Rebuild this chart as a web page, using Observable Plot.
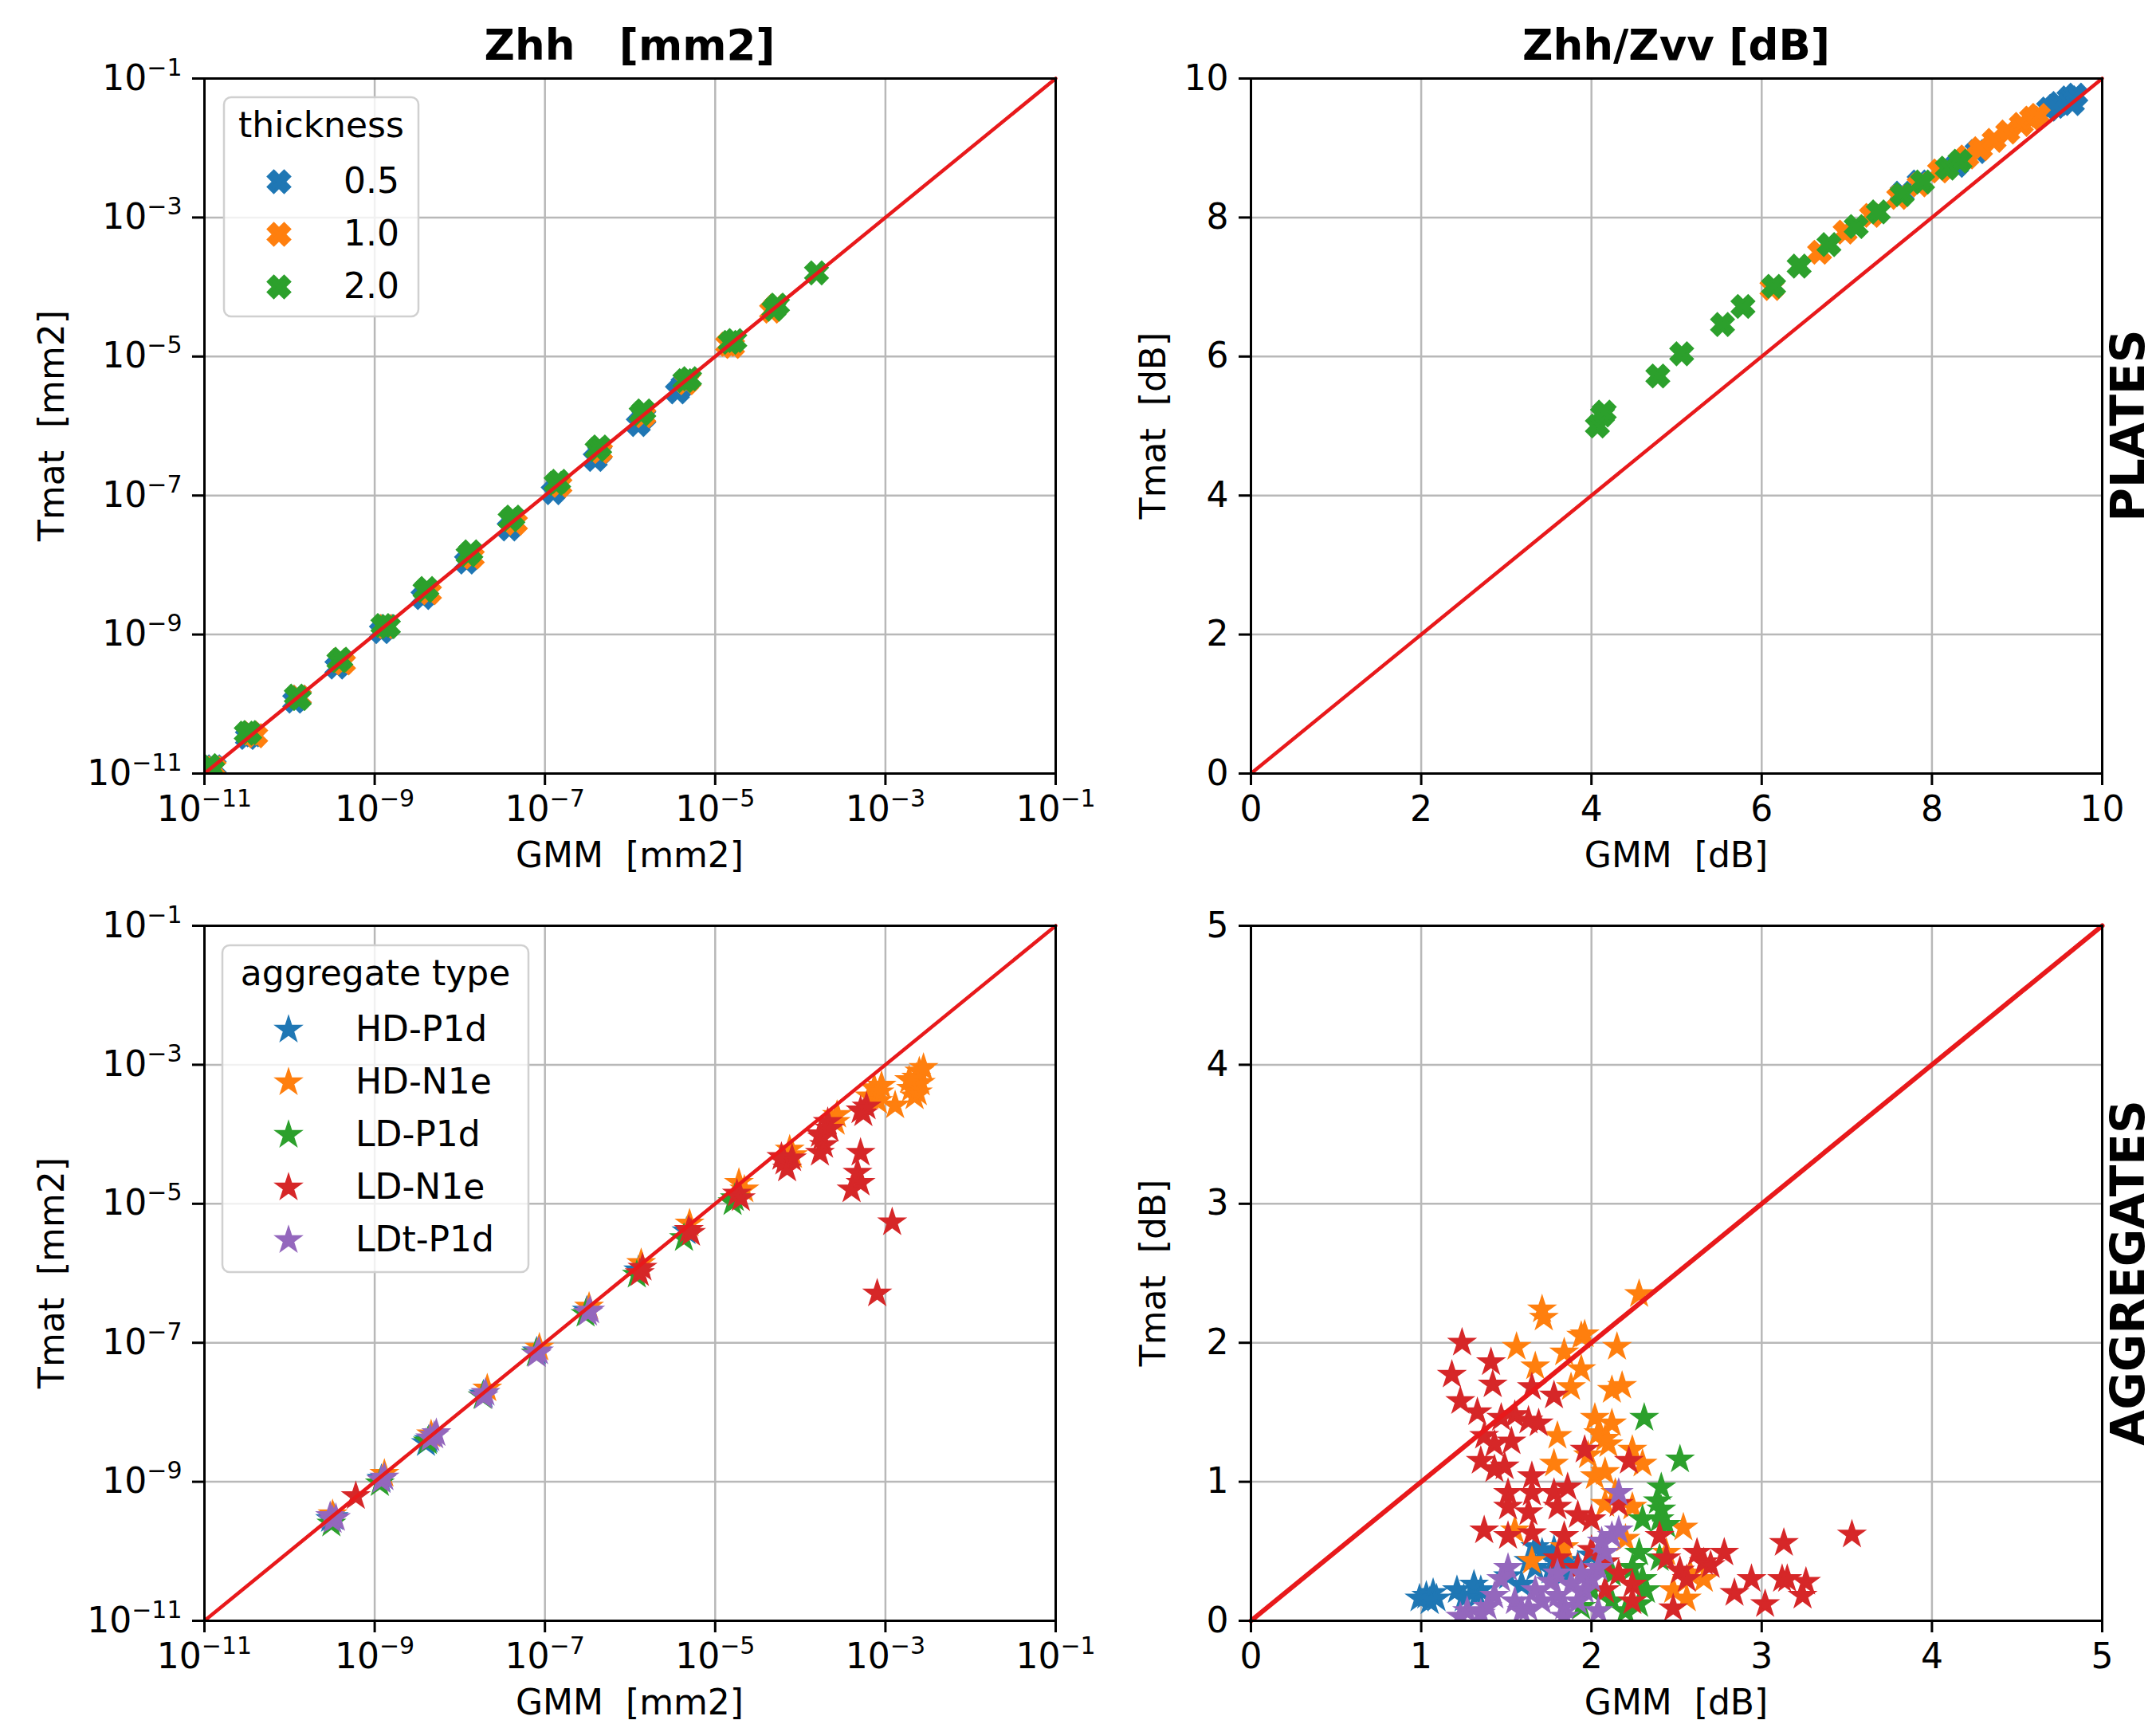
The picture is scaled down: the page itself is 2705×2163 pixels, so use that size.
<!DOCTYPE html>
<html><head><meta charset="utf-8">
<script src="https://cdn.jsdelivr.net/npm/d3@7"></script>
<script src="https://cdn.jsdelivr.net/npm/@observablehq/plot@0.6"></script>
<style>
html,body{margin:0;padding:0;background:#fff;}
#root{position:relative;width:2705px;height:2163px;overflow:hidden;font-family:"DejaVu Sans",sans-serif;background:#fff;}
#root > svg{position:absolute;}
</style></head><body><div id="root"></div>
<script>
// ---------------- DATA ----------------
const colors = {blue:"#1f77b4", orange:"#ff7f0e", green:"#2ca02c", red:"#d62728", purple:"#9467bd"};
const logTicks = [1e-11, 1e-9, 1e-7, 1e-5, 1e-3, 1e-1];
const logDomain = [1e-11, 1e-1];
const dbTicksPlates = [0, 2, 4, 6, 8, 10];
const dbDomainPlates = [0, 10];
const dbTicksAgg = [0, 1, 2, 3, 4, 5];
const dbDomainAgg = [0, 5];

const thicknessLabels = ["0.5", "1.0", "2.0"];
const aggregateLabels = ["HD-P1d", "HD-N1e", "LD-P1d", "LD-N1e", "LDt-P1d"];

// Plates, Zhh [mm2]: [GMM, Tmat]
const plateZhh05 = [
  [1.15e-11,1.05e-11],[1.3e-11,1.25e-11],[3.2e-11,3.3e-11],[3.7e-11,3.6e-11],
  [1.15e-10,1.1e-10],[1.3e-10,1.25e-10],[3.6e-10,3.4e-10],[4.1e-10,4.0e-10],
  [1.2e-9,1.1e-9],[1.4e-9,1.3e-9],[3.7e-9,3.4e-9],[4.2e-9,4.0e-9],
  [1.2e-8,1.1e-8],[1.35e-8,1.3e-8],[3.8e-8,3.3e-8],[4.3e-8,4.0e-8],
  [1.25e-7,1.1e-7],[1.45e-7,1.35e-7],[3.9e-7,3.3e-7],[4.4e-7,4.1e-7],
  [1.25e-6,1.05e-6],[1.45e-6,1.35e-6],[3.6e-6,3.1e-6],[4.2e-6,3.9e-6]
];
const plateZhh10 = [
  [1.3e-11,1.2e-11],[4.0e-11,3.5e-11],[3.5e-11,3.8e-11],[1.3e-10,1.25e-10],
  [4.3e-10,3.9e-10],[3.9e-10,4.3e-10],[1.35e-9,1.3e-9],[4.4e-9,4.0e-9],
  [1.4e-8,1.3e-8],[4.5e-8,4.0e-8],[1.5e-7,1.4e-7],[4.5e-7,4.3e-7],
  [1.45e-6,1.4e-6],[4.6e-6,4.2e-6],[4.9e-6,4.6e-6],[1.4e-5,1.5e-5],
  [1.6e-5,1.4e-5],[4.6e-5,4.5e-5],[5.2e-5,5.3e-5]
];
const plateZhh20 = [
  [1.15e-11,1.3e-11],[1.25e-11,1.15e-11],[3.1e-11,3.8e-11],[3.4e-11,3.9e-11],
  [1.2e-10,1.3e-10],[1.3e-10,1.2e-10],[3.8e-10,4.2e-10],[4.0e-10,4.4e-10],
  [1.25e-9,1.35e-9],[1.45e-9,1.3e-9],[3.9e-9,4.3e-9],[4.1e-9,4.6e-9],
  [1.25e-8,1.4e-8],[1.35e-8,1.55e-8],[3.9e-8,4.5e-8],[4.2e-8,4.9e-8],
  [1.35e-7,1.5e-7],[1.45e-7,1.6e-7],[4.1e-7,4.6e-7],[4.4e-7,5.0e-7],
  [1.35e-6,1.5e-6],[1.45e-6,1.65e-6],[4.4e-6,4.5e-6],[5.0e-6,4.8e-6],
  [1.5e-5,1.6e-5],[1.7e-5,1.7e-5],[4.9e-5,4.8e-5],[5.4e-5,5.5e-5],[1.55e-4,1.6e-4]
];

// Plates, Zhh/Zvv [dB]: [GMM, Tmat]
const plateZdr05 = [
  [7.65,8.35],[7.85,8.51],[8.29,8.75],[8.53,8.95],[9.37,9.56],[9.49,9.64],
  [9.61,9.72],[9.69,9.76],[9.65,9.64],[9.45,9.6]
];
const plateZdr10 = [
  [6.12,6.98],[6.68,7.5],[6.98,7.79],[7.29,8.03],[7.61,8.29],[7.85,8.47],
  [8.09,8.67],[8.41,8.87],[8.57,8.99],[8.73,9.11],[8.89,9.23],[9.05,9.34],
  [9.17,9.43],[9.25,9.47]
];
const plateZdr20 = [
  [4.07,5.0],[4.13,5.16],[4.15,5.2],[4.78,5.72],[5.06,6.04],[5.54,6.46],
  [5.78,6.72],[6.14,7.01],[6.44,7.3],[6.79,7.61],[7.11,7.87],[7.37,8.08],
  [7.65,8.33],[7.89,8.51],[8.18,8.71],[8.33,8.81]
];

// Aggregates, Zhh [mm2]: [GMM, Tmat]
const aggZhhHDP1d = [
  [3.0e-10,2.9e-10],[3.3e-10,3.1e-10],[1.2e-9,1.1e-9],[4.0e-9,3.6e-9],[4.3e-9,4.0e-9],
  [1.9e-8,1.8e-8],[8.0e-8,7.5e-8],[3.1e-7,2.9e-7],[1.25e-6,1.1e-6],[4.6e-6,4.0e-6]
];
const aggZhhHDN1e = [
  [3.2e-10,3.4e-10],[1.3e-9,1.3e-9],[4.6e-9,4.8e-9],[2.1e-8,2.2e-8],[8.6e-8,8.5e-8],
  [3.3e-7,3.3e-7],[1.35e-6,1.4e-6],[5.0e-6,5.2e-6],[1.9e-5,2.0e-5],[2.2e-5,1.6e-5],
  [7.5e-5,6.0e-5],[8.2e-5,5.0e-5],[2.7e-4,1.9e-4],[2.6e-4,1.5e-4],[7.4e-4,4.6e-4],
  [6.5e-4,3.5e-4],[8.2e-4,3.0e-4],[9.0e-4,5.0e-4],[8.5e-4,4.0e-4],[1.3e-3,2.6e-4],
  [2.0e-3,4.5e-4],[2.3e-3,6.5e-4],[2.5e-3,8.0e-4],[2.2e-3,3.5e-4],[2.6e-3,5.5e-4],
  [2.8e-3,9.0e-4],[2.4e-3,4.0e-4],[1.9e-3,6.0e-4]
];
const aggZhhLDP1d = [
  [3.1e-10,2.5e-10],[1.15e-9,9.5e-10],[4.2e-9,3.8e-9],[1.85e-8,1.7e-8],[7.8e-8,7.0e-8],
  [3.0e-7,2.6e-7],[1.2e-6,9.5e-7],[4.3e-6,3.2e-6],[1.6e-5,1.05e-5],[1.7e-5,1.2e-5]
];
const aggZhhLDN1e = [
  [6.0e-10,6.2e-10],[1.3e-6,1.0e-6],[1.4e-6,1.2e-6],[4.9e-6,4.2e-6],[5.2e-6,3.8e-6],
  [1.8e-5,1.4e-5],[2.0e-5,1.2e-5],[6.5e-5,4.0e-5],[7.0e-5,3.2e-5],[6.0e-5,4.7e-5],
  [8.0e-5,4.5e-5],[1.7e-4,1.0e-4],[1.7e-4,5.4e-5],[1.9e-4,7.0e-5],[1.8e-4,9.0e-5],
  [2.1e-4,1.5e-4],[2.2e-4,1.2e-4],[5.1e-4,2.2e-4],[5.5e-4,2.0e-4],[6.0e-4,2.5e-4],
  [5.1e-4,5.4e-5],[4.7e-4,2.8e-5],[5.1e-4,2.0e-5],[4.0e-4,1.6e-5],[1.2e-3,5.4e-6],
  [8.0e-4,5.1e-7]
];
const aggZhhLDtP1d = [
  [3.2e-10,2.8e-10],[3.5e-10,3.0e-10],[3.0e-10,3.2e-10],[1.2e-9,1.05e-9],[1.3e-9,1.15e-9],
  [4.5e-9,4.2e-9],[5.0e-9,4.6e-9],[5.3e-9,5.0e-9],[1.9e-8,1.7e-8],[2.0e-8,1.9e-8],
  [8.0e-8,6.8e-8],[8.5e-8,7.5e-8],[3.2e-7,2.7e-7],[3.4e-7,2.9e-7]
];

// Aggregates, Zhh/Zvv [dB]: [GMM, Tmat]
const aggZdrHDP1d = [[0.99,0.16],[1.03,0.18],[1.07,0.2],[1.09,0.16],[1.05,0.14],[1.21,0.22],[1.31,0.26],[1.35,0.22],[1.33,0.18],[1.25,0.16],[1.67,0.53],[1.71,0.49],[1.78,0.51],[1.84,0.43],[1.67,0.38],[1.76,0.36],[1.84,0.34],[1.92,0.4],[2.0,0.47],[1.63,0.43],[1.51,0.32],[1.59,0.26]];
const aggZdrHDN1e = [[2.28,2.35],[1.71,2.24],[1.72,2.18],[1.56,1.97],[1.84,1.93],[1.94,2.05],[1.96,2.06],[2.15,1.97],[1.67,1.83],[1.94,1.81],[1.88,1.68],[2.12,1.66],[2.18,1.69],[2.02,1.46],[2.04,1.35],[2.1,1.27],[1.8,1.33],[1.78,1.13],[1.98,1.19],[2.24,1.23],[2.3,1.13],[2.08,1.07],[2.02,1.04],[2.14,0.92],[2.08,0.84],[2.24,0.82],[2.54,0.67],[2.2,0.59],[2.44,0.49],[2.58,0.34],[2.66,0.3],[2.48,0.22],[2.56,0.16],[1.65,0.43],[1.84,0.53],[1.55,0.65],[2.08,1.31],[2.12,1.42]];
const aggZdrLDP1d = [[2.31,1.46],[2.52,1.16],[2.41,0.96],[2.39,0.86],[2.41,0.8],[2.4,0.73],[2.3,0.73],[2.44,0.69],[2.28,0.49],[2.4,0.45],[2.08,0.42],[2.12,0.34],[2.3,0.3],[2.32,0.22],[2.28,0.12],[2.0,0.22],[2.12,0.14],[2.2,0.07],[1.94,0.1],[2.24,0.38]];
const aggZdrLDN1e = [[1.24,2.0],[1.41,1.86],[1.18,1.77],[1.42,1.7],[1.23,1.58],[1.33,1.5],[1.47,1.46],[1.55,1.48],[1.63,1.44],[1.69,1.42],[1.65,1.68],[1.78,1.62],[1.37,1.33],[1.43,1.27],[1.53,1.29],[1.35,1.15],[1.43,1.09],[1.49,1.11],[1.96,1.23],[2.22,1.15],[1.65,1.04],[1.51,0.92],[1.65,0.92],[1.78,0.92],[1.86,0.96],[1.51,0.82],[1.63,0.78],[1.8,0.82],[1.92,0.76],[2.0,0.73],[2.16,0.84],[1.37,0.65],[1.51,0.61],[1.65,0.63],[1.84,0.61],[2.0,0.51],[2.08,0.42],[2.16,0.34],[2.24,0.26],[2.4,0.61],[2.44,0.45],[2.52,0.36],[2.62,0.49],[2.66,0.42],[2.7,0.4],[2.78,0.49],[2.56,0.3],[2.48,0.09],[2.84,0.2],[2.94,0.3],[3.02,0.12],[3.13,0.56],[3.12,0.3],[3.15,0.3],[3.24,0.18],[3.26,0.28],[3.53,0.62],[2.24,0.14],[2.08,0.22],[1.92,0.38],[1.8,0.45]];
const aggZdrLDtP1d = [[2.16,0.92],[2.16,0.65],[2.06,0.57],[1.51,0.38],[1.47,0.3],[1.43,0.18],[1.39,0.1],[1.27,0.07],[1.23,0.03],[1.35,0.05],[1.55,0.14],[1.63,0.09],[1.71,0.14],[1.8,0.18],[1.84,0.1],[1.92,0.14],[1.96,0.22],[1.88,0.26],[2.0,0.3],[2.04,0.38],[2.08,0.49],[2.12,0.61],[1.76,0.28],[1.67,0.22],[1.59,0.07],[1.84,0.03],[2.04,0.07],[1.8,0.34],[1.94,0.34]];

// ---------------- SYMBOLS ----------------
const xFilled = {draw(ctx, size) {
  const s = Math.sqrt(size / Math.PI) / 2;
  const v = [[-1,-2],[0,-1],[1,-2],[2,-1],[1,0],[2,1],[1,2],[0,1],[-1,2],[-2,1],[-1,0],[-2,-1]];
  v.forEach(([a,b],i) => i ? ctx.lineTo(a*s,b*s) : ctx.moveTo(a*s,b*s));
  ctx.closePath();
}};
const star5 = {draw(ctx, size) {
  const R = Math.sqrt(size / Math.PI), ri = R * 0.381966;
  for (let i = 0; i < 10; i++) {
    const a = -Math.PI/2 + i*Math.PI/5, rr = i % 2 ? ri : R;
    const x = rr*Math.cos(a), y = rr*Math.sin(a);
    i ? ctx.lineTo(x,y) : ctx.moveTo(x,y);
  }
  ctx.closePath();
}};

// ---------------- HELPERS ----------------
const SUP = {"-":"⁻","0":"⁰","1":"¹","2":"²","3":"³","4":"⁴","5":"⁵","6":"⁶","7":"⁷","8":"⁸","9":"⁹"};
const UNSUP = {"⁻":"\u2212","⁰":"0","¹":"1","²":"2","³":"3","⁴":"4","⁵":"5","⁶":"6","⁷":"7","⁸":"8","⁹":"9"};
const logFmt = d => "10" + String(Math.round(Math.log10(d))).split("").map(c => SUP[c]).join("");
function fixSup(svg) {
  svg.querySelectorAll('g[aria-label$="tick label"] text').forEach(t => {
    const m = t.textContent.match(/^10([⁻⁰¹²³⁴⁵⁶⁷⁸⁹]+)$/);
    if (!m) return;
    const exp = m[1].split("").map(c => UNSUP[c]).join("");
    t.textContent = "10";
    const ts = document.createElementNS("http://www.w3.org/2000/svg", "tspan");
    ts.setAttribute("dy", "-18");
    ts.setAttribute("font-size", "30");
    ts.textContent = exp;
    t.appendChild(ts);
  });
}

const FONT = "DejaVu Sans";
const GRID = "#b8b8b8";
const RED = "#e8191b";

function panel({left, top, width, height, margins, type, domain, ticks, fmt, series, symbol, r, sw, lineWidth}) {
  const [mt, mr, mb, ml] = margins;
  const marks = [
    Plot.ruleX(ticks, {stroke: GRID, strokeWidth: 2.5}),
    Plot.ruleY(ticks, {stroke: GRID, strokeWidth: 2.5}),
    ...series.map(([data, color]) => Plot.dot(data, {x: d => d[0], y: d => d[1], symbol, r, fill: color, stroke: color, strokeWidth: sw, clip: true})),
    Plot.line(domain, {x: d => d, y: d => d, stroke: RED, strokeWidth: lineWidth}),
    Plot.axisX({ticks, tickFormat: fmt, tickSize: 15, tickPadding: 13, strokeWidth: 3, label: null}),
    Plot.axisY({ticks, tickFormat: fmt, tickSize: 15, tickPadding: 13, strokeWidth: 3, label: null}),
    Plot.frame({stroke: "black", strokeWidth: 3})
  ];
  const svg = Plot.plot({
    width, height, marginTop: mt, marginRight: mr, marginBottom: mb, marginLeft: ml,
    x: {type, domain, axis: null}, y: {type, domain, axis: null},
    style: {fontFamily: FONT, fontSize: "44px", color: "black", background: "transparent", overflow: "visible"},
    marks
  });
  svg.style.position = "absolute";
  svg.style.left = left + "px";
  svg.style.top = top + "px";
  svg.style.maxWidth = "none";
  fixSup(svg);
  document.getElementById("root").appendChild(svg);
}

const linFmt = d => String(d);
const X_R = 13, X_SW = 4, S_R = 15, S_SW = 3;

panel({left: 0, top: 0, width: 1400, height: 1080, margins: [98, 76, 110, 256], type: "log",
  domain: logDomain, ticks: logTicks, fmt: logFmt, symbol: xFilled, r: X_R, sw: X_SW, lineWidth: 4.5,
  series: [[plateZhh05, colors.blue], [plateZhh10, colors.orange], [plateZhh20, colors.green]]});
panel({left: 1400, top: 0, width: 1305, height: 1080, margins: [98, 68, 110, 169], type: "linear",
  domain: dbDomainPlates, ticks: dbTicksPlates, fmt: linFmt, symbol: xFilled, r: X_R, sw: X_SW, lineWidth: 4.5,
  series: [[plateZdr05, colors.blue], [plateZdr10, colors.orange], [plateZdr20, colors.green]]});
panel({left: 0, top: 1080, width: 1400, height: 1083, margins: [81, 76, 130, 256], type: "log",
  domain: logDomain, ticks: logTicks, fmt: logFmt, symbol: star5, r: S_R, sw: S_SW, lineWidth: 4.5,
  series: [[aggZhhHDP1d, colors.blue], [aggZhhHDN1e, colors.orange], [aggZhhLDP1d, colors.green], [aggZhhLDN1e, colors.red], [aggZhhLDtP1d, colors.purple]]});
panel({left: 1400, top: 1080, width: 1305, height: 1083, margins: [81, 68, 130, 169], type: "linear",
  domain: dbDomainAgg, ticks: dbTicksAgg, fmt: linFmt, symbol: star5, r: S_R, sw: S_SW, lineWidth: 6,
  series: [[aggZdrHDP1d, colors.blue], [aggZdrHDN1e, colors.orange], [aggZdrLDP1d, colors.green], [aggZdrLDN1e, colors.red], [aggZdrLDtP1d, colors.purple]]});

// ---------------- OVERLAY: titles, labels, legends ----------------
const ov = d3.select("#root").append("svg")
  .attr("width", 2705).attr("height", 2163)
  .style("left", "0px").style("top", "0px")
  .attr("font-family", FONT);

function txt(x, y, s, {size = 44, weight = "normal", anchor = "middle", rotate = 0} = {}) {
  ov.append("text")
    .attr("transform", `translate(${x},${y}) rotate(${rotate})`)
    .attr("text-anchor", anchor)
    .attr("font-size", size).attr("font-weight", weight)
    .attr("xml:space", "preserve").style("white-space", "pre")
    .attr("fill", "black")
    .text(s);
}
txt(790, 75, "Zhh   [mm2]", {size: 53, weight: "bold"});
txt(2103, 75, "Zhh/Zvv [dB]", {size: 53, weight: "bold"});
txt(790, 1088, "GMM  [mm2]");
txt(2103, 1088, "GMM  [dB]");
txt(790, 2151, "GMM  [mm2]");
txt(2103, 2151, "GMM  [dB]");
txt(80, 534, "Tmat  [mm2]", {rotate: -90});
txt(1462, 534, "Tmat  [dB]", {rotate: -90});
txt(80, 1597, "Tmat  [mm2]", {rotate: -90});
txt(1462, 1597, "Tmat  [dB]", {rotate: -90});
txt(2690, 534, "PLATES", {size: 58, weight: "bold", rotate: -90});
txt(2690, 1597, "AGGREGATES", {size: 58, weight: "bold", rotate: -90});

function legend({x, y, w, h, title, labels, cols, symbol, r, sw, markerX, labelX, firstY, step}) {
  ov.append("rect").attr("x", x).attr("y", y).attr("width", w).attr("height", h)
    .attr("rx", 9).attr("fill", "white").attr("fill-opacity", 0.8)
    .attr("stroke", "#d0d0d0").attr("stroke-width", 2.5);
  txt(x + w/2, y + 50, title);
  labels.forEach((lab, i) => {
    const cy = firstY + i*step;
    ov.append("path").attr("d", d3.symbol(symbol, Math.PI*r*r)())
      .attr("transform", `translate(${markerX},${cy})`)
      .attr("fill", cols[i]).attr("stroke", cols[i]).attr("stroke-width", sw);
    txt(labelX, cy + 14, lab, {anchor: "start"});
  });
}
legend({x: 281, y: 122, w: 244, h: 275, title: "thickness", labels: thicknessLabels,
  cols: [colors.blue, colors.orange, colors.green], symbol: xFilled, r: X_R, sw: X_SW,
  markerX: 350, labelX: 431, firstY: 228, step: 66});
legend({x: 279, y: 1186, w: 384, h: 410, title: "aggregate type", labels: aggregateLabels,
  cols: [colors.blue, colors.orange, colors.green, colors.red, colors.purple], symbol: star5, r: S_R, sw: S_SW,
  markerX: 362, labelX: 446, firstY: 1292, step: 66});
</script></body></html>
